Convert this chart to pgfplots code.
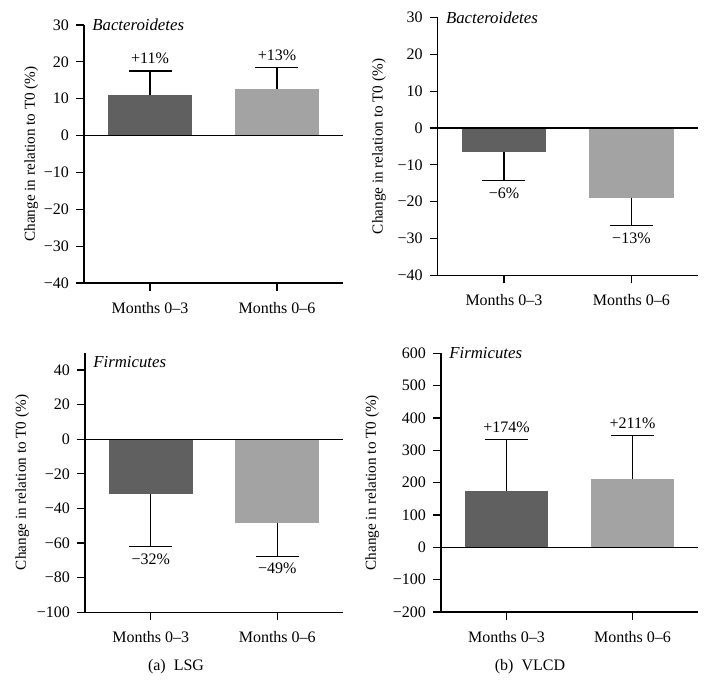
\documentclass[border=0pt]{standalone}
\usepackage{fontspec}
\setmainfont{Liberation Serif}
\usepackage{pgfplots}
\pgfplotsset{compat=1.18}
\definecolor{dk}{HTML}{606060}
\definecolor{lt}{HTML}{A3A3A3}
\newcommand{\fs}{\fontsize{8}{9.6}\selectfont}
\newcommand{\fl}{\fontsize{7.6}{9}\selectfont}
\newcommand{\ft}{\fontsize{8.4}{10}\selectfont}
\pgfplotsset{
 panel/.style={
  scale only axis, clip=false,
  axis x line=bottom, axis y line=left,
  axis line style={-, line width=0.6pt},
  xmin=-0.52, xmax=1.52,
  xtick={0,1}, xticklabels={Months 0–3, Months 0–6},
  tick align=outside, major tick length=4pt,
  tick style={line width=0.6pt, black},
  ybar, bar shift=0pt, bar width=0.664,
  font=\fs, ticklabel style={font=\fs},
  ylabel={Change in relation to T0 (\%)},
  ylabel style={font=\fl},
  xticklabel style={yshift=-2pt},
 },
 ebup/.style={error bars/.cd, y dir=plus, y explicit,
   error bar style={line width=0.6pt, black},
   error mark options={black, line width=0.6pt, rotate=90, mark size=10.75pt}},
 ebdn/.style={error bars/.cd, y dir=minus, y explicit,
   error bar style={line width=0.6pt, black},
   error mark options={black, line width=0.6pt, rotate=90, mark size=10.75pt}},
}
\begin{document}
\begin{tikzpicture}[font=\fs]
\path[use as bounding box] (0,0) rectangle (354.5pt,342pt);
% Panel 1
\begin{axis}[panel, at={(42pt,200.5pt)}, anchor=south west, width=129.5pt, height=129pt,
  ymin=-40, ymax=30, ytick={-40,-30,...,30},
  yticklabels={−40,−30,−20,−10,0,10,20,30}, ylabel style={yshift=-4pt}]
\addplot[fill=dk, draw=none, ebup] coordinates {(0,11.0) +- (0,6.5)};
\addplot[fill=lt, draw=none, ebup] coordinates {(1,12.7) +- (0,5.8)};
\draw[line width=0.6pt] (axis cs:-0.52,0) -- (axis cs:1.52,0);
\node[anchor=west, font=\ft] at (rel axis cs:0.005,1) {\textit{Bacteroidetes}};
\node[anchor=south] at (axis cs:0,17.5) {+11\%};
\node[anchor=south] at (axis cs:1,18.5) {+13\%};
\end{axis}
% Panel 2
\begin{axis}[panel, at={(218.85pt,204.35pt)}, anchor=south west, width=130pt, height=128.8pt,
  ymin=-40, ymax=30, ytick={-40,-30,...,30},
  yticklabels={−40,−30,−20,−10,0,10,20,30}, ylabel style={yshift=-1pt}]
\addplot[fill=dk, draw=none, ebdn] coordinates {(0,-6.4) +- (0,7.8)};
\addplot[fill=lt, draw=none, ebdn] coordinates {(1,-18.9) +- (0,7.6)};
\draw[line width=0.6pt] (axis cs:-0.52,0) -- (axis cs:1.52,0);
\node[anchor=west, font=\ft] at (rel axis cs:0.005,1) {\textit{Bacteroidetes}};
\node[anchor=north] at (axis cs:0,-14.2) {−6\%};
\node[anchor=north] at (axis cs:1,-26.5) {−13\%};
\end{axis}
% Panel 3
\begin{axis}[panel, at={(42.5pt,35.85pt)}, anchor=south west, width=129pt, height=129.8pt,
  ymin=-100, ymax=50, ytick={-100,-80,...,40},
  yticklabels={−100,−80,−60,−40,−20,0,20,40}, ylabel style={yshift=-3pt}]
\addplot[fill=dk, draw=none, ebdn] coordinates {(0,-31.6) +- (0,30.4)};
\addplot[fill=lt, draw=none, ebdn] coordinates {(1,-48.3) +- (0,19.3)};
\draw[line width=0.6pt] (axis cs:-0.52,0) -- (axis cs:1.52,0);
\node[anchor=west, font=\ft] at (rel axis cs:0.005,0.965) {\textit{Firmicutes}};
\node[anchor=north] at (axis cs:0,-62) {−32\%};
\node[anchor=north] at (axis cs:1,-67.6) {−49\%};
\end{axis}
% Panel 4
\begin{axis}[panel, at={(220.5pt,36pt)}, anchor=south west, width=128.5pt, height=129.3pt,
  ymin=-200, ymax=600, ytick={-200,-100,...,600},
  yticklabels={−200,−100,0,100,200,300,400,500,600}]
\addplot[fill=dk, draw=none, ebup] coordinates {(0,175) +- (0,159)};
\addplot[fill=lt, draw=none, ebup] coordinates {(1,211.5) +- (0,134.5)};
\draw[line width=0.6pt] (axis cs:-0.52,0) -- (axis cs:1.52,0);
\node[anchor=west, font=\ft] at (rel axis cs:0.005,1) {\textit{Firmicutes}};
\node[anchor=south] at (axis cs:0,334) {+174\%};
\node[anchor=south] at (axis cs:1,346) {+211\%};
\end{axis}
\node at (88pt,8.5pt) {(a)\enspace LSG};
\node at (265pt,8.5pt) {(b)\enspace VLCD};
\end{tikzpicture}
\end{document}
